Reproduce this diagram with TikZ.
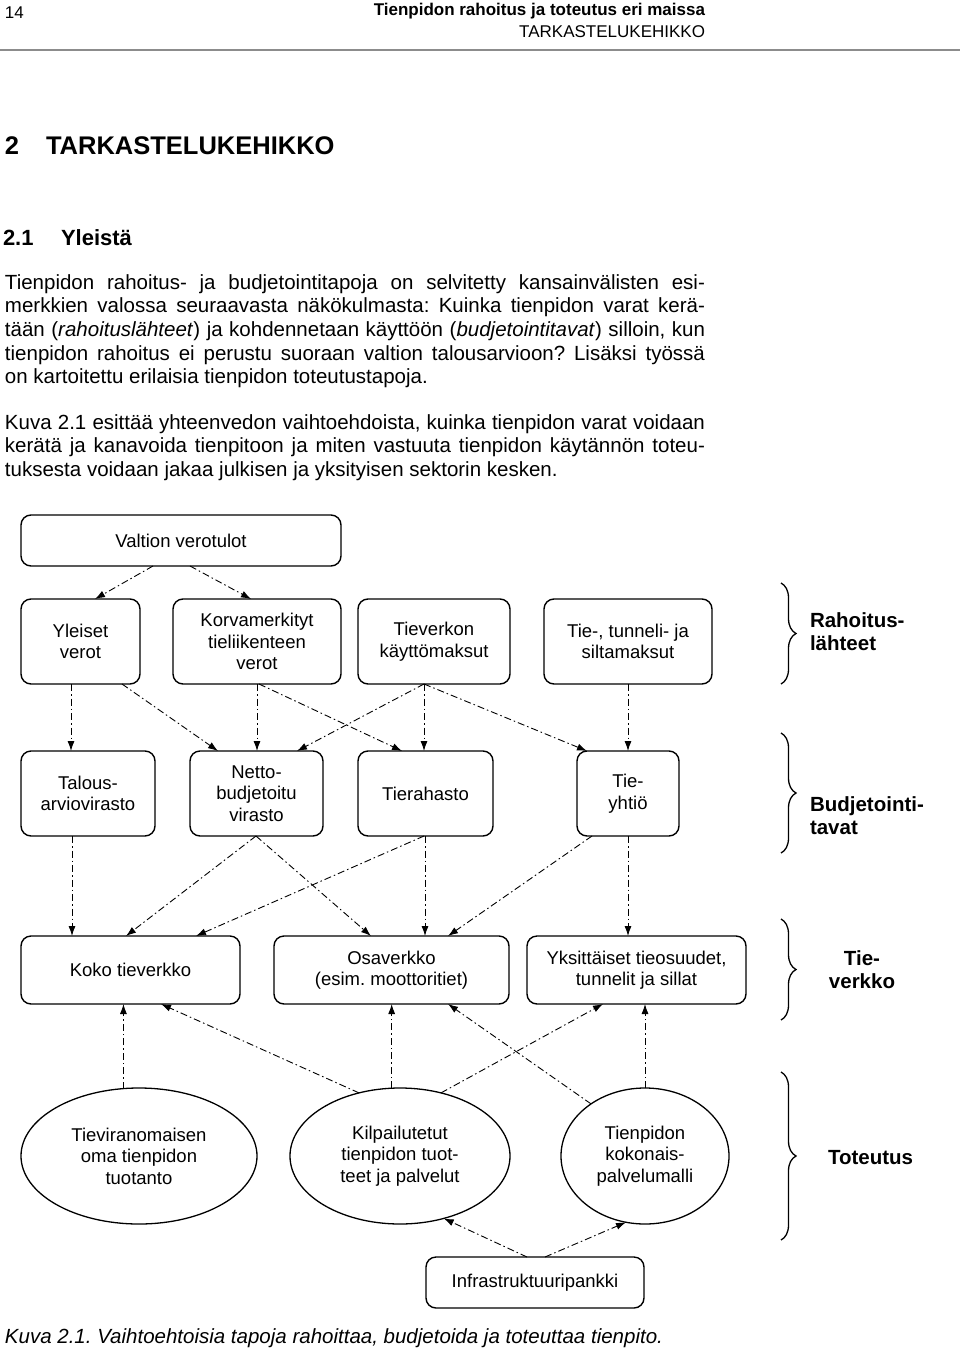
\documentclass[tikz,border=0pt]{standalone}
\usepackage{fontspec}
\setmainfont{Liberation Sans}
\usetikzlibrary{arrows.meta,shapes.geometric,decorations.pathreplacing}
\frenchspacing
\newcommand{\diagfont}{\fontsize{18.5pt}{21.5pt}\selectfont}
\newcommand{\bodyfont}{\fontsize{20.5pt}{23.7pt}\selectfont}
\newcommand{\hdrfont}{\fontsize{17pt}{20pt}\selectfont}
\newcommand{\hOnefont}{\fontsize{25.5pt}{30pt}\selectfont\bfseries}
\newcommand{\hTwofont}{\fontsize{22pt}{26pt}\selectfont\bfseries}
\newcommand{\labfont}{\fontsize{20.5pt}{23.3pt}\selectfont\bfseries}
\newcommand{\jline}[1]{\makebox[700pt][s]{#1}}
\tikzset{
  every node/.style={inner sep=0pt, outer sep=0pt},
  box/.style={draw, rounded corners=10pt, line width=1.4pt, align=center, font=\diagfont},
  oval/.style={draw, ellipse, line width=1.3pt, align=center, font=\diagfont},
  flow/.style={line width=0.9pt, dash pattern=on 7pt off 3pt on 1.5pt off 3pt,
               -{Latex[length=10pt,width=7pt]}},
  brc/.style={decorate, decoration={brace, amplitude=15pt}, line width=1.3pt},
  lab/.style={font=\labfont, align=left},
  body/.style={font=\bodyfont, anchor=base west},
}
\begin{document}
\begin{tikzpicture}[x=1pt,y=-1pt]
\useasboundingbox[fill=white] (0,0) rectangle (960,1348);

% page header
\node[font=\hdrfont, anchor=base west] (pg) at (5,19) {14};
\node[font=\hdrfont\bfseries, anchor=base east] (ht) at (705,16) {Tienpidon rahoitus ja toteutus eri maissa};
\node[font=\hdrfont, anchor=base east] (hs) at (705,38) {TARKASTELUKEHIKKO};
\draw[black!45, line width=1.2pt] (0,50) -- (960,50);

% headings
\node[font=\hOnefont, anchor=base west] (h1n) at (5,155) {2};
\node[font=\hOnefont, anchor=base west] (h1) at (46,155) {TARKASTELUKEHIKKO};
\node[font=\hTwofont, anchor=base west] (h2n) at (3,245) {2.1};
\node[font=\hTwofont, anchor=base west] (h2) at (61,245) {Yleistä};

% body text
\node[body] (p1) at (5,289) {\jline{Tienpidon rahoitus- ja budjetointitapoja on selvitetty kansainvälisten esi-}};
\node[body] (p2) at (5,312.7) {\jline{merkkien valossa seuraavasta näkökulmasta: Kuinka tienpidon varat kerä-}};
\node[body] (p3) at (5,336.4) {\jline{tään (\textit{rahoituslähteet}) ja kohdennetaan käyttöön (\textit{budjetointitavat}) silloin, kun}};
\node[body] (p4) at (5,360.1) {\jline{tienpidon rahoitus ei perustu suoraan valtion talousarvioon? Lisäksi työssä}};
\node[body] (p5) at (5,383.8) {on kartoitettu erilaisia tienpidon toteutustapoja.};
\node[body] (q1) at (5,429) {\jline{Kuva 2.1 esittää yhteenvedon vaihtoehdoista, kuinka tienpidon varat voidaan}};
\node[body] (q2) at (5,452.7) {\jline{kerätä ja kanavoida tienpitoon ja miten vastuuta tienpidon käytännön toteu-}};
\node[body] (q3) at (5,476.4) {tuksesta voidaan jakaa julkisen ja yksityisen sektorin kesken.};

% diagram nodes
\node[box, minimum width=320pt, minimum height=51pt] (vv) at (181,540.5) {Valtion verotulot};

\node[box, minimum width=119pt, minimum height=85pt] (yl) at (80.5,641.5) {Yleiset\\verot};
\node[box, minimum width=168pt, minimum height=85pt] (ko) at (257,641.5) {Korvamerkityt\\tieliikenteen\\verot};
\node[box, minimum width=152pt, minimum height=85pt] (tv) at (434,641.5) {Tieverkon\\käyttömaksut};
\node[box, minimum width=168pt, minimum height=85pt] (tt) at (628,641.5) {Tie-, tunneli- ja\\siltamaksut};

\node[box, minimum width=134pt, minimum height=85pt] (ta) at (88,793.5) {Talous-\\arviovirasto};
\node[box, minimum width=133pt, minimum height=85pt] (ne) at (256.5,793.5) {Netto-\\budjetoitu\\virasto};
\node[box, minimum width=135pt, minimum height=85pt] (tr) at (425.5,793.5) {Tierahasto};
\node[box, minimum width=102pt, minimum height=85pt] (ty) at (628,793.5) {Tie-\\yhtiö};

\node[box, minimum width=219pt, minimum height=68pt] (kk) at (130.5,970) {Koko tieverkko};
\node[box, minimum width=235pt, minimum height=68pt] (os) at (391.5,970) {Osaverkko\\(esim. moottoritiet)};
\node[box, minimum width=219pt, minimum height=68pt] (yk) at (636.5,970) {Yksittäiset tieosuudet,\\tunnelit ja sillat};

\node[oval, minimum width=236pt, minimum height=136pt] (e1) at (139,1156) {Tieviranomaisen\\oma tienpidon\\tuotanto};
\node[oval, minimum width=220pt, minimum height=136pt] (e2) at (400,1156) {Kilpailutetut\\tienpidon tuot-\\teet ja palvelut};
\node[oval, minimum width=168pt, minimum height=136pt] (e3) at (645,1156) {Tienpidon\\kokonais-\\palvelumalli};

\node[box, minimum width=218pt, minimum height=51pt] (ip) at (535,1282.5) {Infrastruktuuripankki};

% connectors: sources
\draw[flow] ([xshift=-28pt]vv.south) -- ([xshift=14.5pt]yl.north);
\draw[flow] ([xshift=9pt]vv.south) -- ([xshift=-6pt]ko.north);

% sources -> budgeting
\draw[flow] ([xshift=-9.5pt]yl.south) -- ([xshift=-17pt]ta.north);
\draw[flow] ([xshift=41.5pt]yl.south) -- ([xshift=-38.5pt]ne.north);
\draw[flow] ([xshift=0pt]ko.south) -- ([xshift=0.5pt]ne.north);
\draw[flow] ([xshift=2pt]ko.south) -- ([xshift=-23.5pt]tr.north);
\draw[flow] ([xshift=-10pt]tv.south) -- ([xshift=40.5pt]ne.north);
\draw[flow] ([xshift=-10pt]tv.south) -- ([xshift=-1.5pt]tr.north);
\draw[flow] ([xshift=-10pt]tv.south) -- ([xshift=-41pt]ty.north);
\draw[flow] (tt.south) -- (ty.north);

% budgeting -> network
\draw[flow] ([xshift=-16pt]ta.south) -- ([xshift=-58.5pt]kk.north);
\draw[flow] ([xshift=-0.5pt]ne.south) -- ([xshift=-4.5pt]kk.north);
\draw[flow] ([xshift=-0.5pt]ne.south) -- ([xshift=-20.5pt]os.north);
\draw[flow] ([xshift=-1.5pt]tr.south) -- ([xshift=65.5pt]kk.north);
\draw[flow] ([xshift=-0.5pt]tr.south) -- ([xshift=33.5pt]os.north);
\draw[flow] ([xshift=-36pt]ty.south) -- ([xshift=56.5pt]os.north);
\draw[flow] (ty.south) -- ([xshift=-8.5pt]yk.north);

% implementation -> network
\draw[flow] (e1.103) -- (e1.103 |- kk.south);
\draw[flow] (e2.123) -- ([xshift=30.5pt]kk.south);
\draw[flow] (e2.97) -- (e2.97 |- os.south);
\draw[flow] (e2.57) -- ([xshift=-33.5pt]yk.south);
\draw[flow] (e3.136) -- ([xshift=56.5pt]os.south);
\draw[flow] (e3.north) -- (e3.north |- yk.south);

% infrastructure bank
\draw[flow] ([xshift=-8pt]ip.north) -- (e2.-55);
\draw[flow] ([xshift=10pt]ip.north) -- (e3.-106);

% braces and labels
\draw[brc] (781,583) -- (781,684);
\draw[brc] (781,733) -- (781,853);
\draw[brc] (781,919) -- (781,1020);
\draw[brc] (781,1072) -- (781,1240);
\node[lab, anchor=west] (lr) at (810,632) {Rahoitus-\\lähteet};
\node[lab, anchor=west] (lb) at (810,816) {Budjetointi-\\tavat};
\node[lab, align=center] (lt) at (862,970) {Tie-\\verkko};
\node[lab, anchor=west] (lto) at (828,1158) {Toteutus};

% caption
\node[font=\bodyfont\itshape, anchor=base west] (cap) at (5,1343) {Kuva 2.1. Vaihtoehtoisia tapoja rahoittaa, budjetoida ja toteuttaa tienpito.};
\end{tikzpicture}
\end{document}
